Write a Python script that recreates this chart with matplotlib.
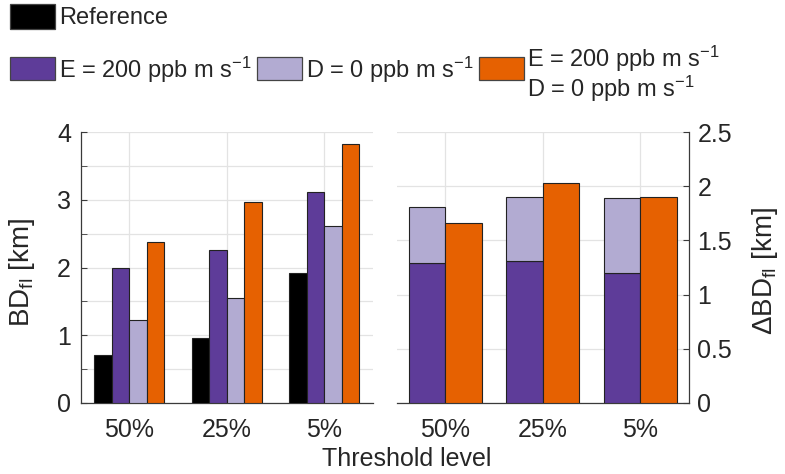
import matplotlib
matplotlib.use("Agg")
import matplotlib.pyplot as plt
from matplotlib.patches import Rectangle
import numpy as np

plt.rcParams['font.family'] = ['Liberation Sans', 'DejaVu Sans']
plt.rcParams['mathtext.fontset'] = 'custom'
plt.rcParams['mathtext.rm'] = 'Liberation Sans'
plt.rcParams['mathtext.it'] = 'Liberation Sans:italic'
plt.rcParams['mathtext.bf'] = 'Liberation Sans:bold'

categories = ['50%', '25%', '5%']
# Left panel: BD_fl [km]
ref_bd = [0.71, 0.955, 1.92]
e200_bd = [2.00, 2.26, 3.11]
d0_bd = [1.23, 1.545, 2.61]
both_bd = [2.37, 2.97, 3.82]
# Right panel: Delta BD_fl [km]
e200_dbd = [1.287, 1.312, 1.195]
d0_dbd = [0.523, 0.588, 0.695]   # stacked on top of e200_dbd
both_dbd = [1.656, 2.03, 1.90]

left_ticks = [0, 1, 2, 3, 4]
right_ticks = [0, 0.5, 1, 1.5, 2, 2.5]
right_ticklabels = ['0', '0.5', '1', '1.5', '2', '2.5']

c_ref = '#000000'
c_e = '#5E3C99'
c_d = '#B2ABD2'
c_both = '#E66101'
edge = '#222222'
axcol = '#262626'
spinecol = '#3a3a3a'
gridcol = '#e3e3e3'

W, H = 785, 474
fig = plt.figure(figsize=(W / 100, H / 100), dpi=100)

axL = fig.add_axes([80.7 / W, 1 - 403 / H, (373 - 80.7) / W, (403 - 132) / H])
axR = fig.add_axes([396.7 / W, 1 - 403 / H, (689 - 396.7) / W, (403 - 132) / H])

x = np.arange(1, len(categories) + 1)
bw = 0.18
offs = [-1.5, -0.5, 0.5, 1.5]
for off, vals, col in zip(offs, [ref_bd, e200_bd, d0_bd, both_bd], [c_ref, c_e, c_d, c_both]):
    axL.bar(x + off * bw, vals, width=bw, color=col, edgecolor=edge, linewidth=0.8, zorder=3)

bw2 = 0.375
axR.bar(x - bw2 / 2, e200_dbd, width=bw2, color=c_e, edgecolor=edge, linewidth=0.8, zorder=3)
axR.bar(x - bw2 / 2, d0_dbd, bottom=e200_dbd, width=bw2, color=c_d, edgecolor=edge, linewidth=0.8, zorder=3)
axR.bar(x + bw2 / 2, both_dbd, width=bw2, color=c_both, edgecolor=edge, linewidth=0.8, zorder=3)

fs = 18
for ax in (axL, axR):
    ax.set_xlim(0.5, 3.5)
    ax.set_xticks(x)
    ax.set_xticklabels(categories, fontsize=fs, color=axcol)
    ax.spines['top'].set_visible(False)
    ax.grid(True, which='both', color=gridcol, linewidth=0.9, zorder=0)
    ax.set_axisbelow(True)
    ax.tick_params(axis='x', direction='in', length=0, pad=11, colors=axcol, labelcolor=axcol)
    ax.tick_params(axis='y', which='both', direction='in', length=4, colors=spinecol,
                   labelsize=fs, labelcolor=axcol)
    for s in ax.spines.values():
        s.set_color(spinecol)
        s.set_linewidth(0.9)

axL.set_ylim(0, 4)
axL.set_yticks(left_ticks)
axL.set_yticks([0.5, 1.5, 2.5, 3.5], minor=True)
axL.spines['right'].set_visible(False)
axL.tick_params(axis='y', pad=7)

axR.set_ylim(0, 2.5)
axR.set_yticks(right_ticks)
axR.set_yticklabels(right_ticklabels)
axR.spines['left'].set_visible(False)
axR.yaxis.tick_right()
axR.tick_params(axis='y', left=False, right=True, pad=6)

fig.text(22 / W, 1 - 272 / H, r'BD$_{\rm fl}$ [km]', fontsize=20, color=axcol,
         rotation=90, ha='center', va='center')
fig.text(765 / W, 1 - 271 / H, r'$\Delta$BD$_{\rm fl}$ [km]', fontsize=20, color=axcol,
         rotation=90, ha='center', va='center')
fig.text(407 / W, 1 - 459 / H, 'Threshold level', fontsize=fs, color=axcol, ha='center', va='center')

# Legend drawn manually
lfs = 17
def patch(x0, y0, x1, y1, col):
    fig.patches.append(Rectangle((x0 / W, 1 - y1 / H), (x1 - x0) / W, (y1 - y0) / H,
                                 transform=fig.transFigure, facecolor=col, edgecolor='#444444',
                                 linewidth=0.9))

patch(10, 4, 55, 29, c_ref)
fig.text(59 / W, 1 - 18 / H, 'Reference', fontsize=lfs, color=axcol, va='center', ha='left')
patch(10, 57, 55, 80, c_e)
fig.text(59 / W, 1 - 70 / H, r'E = 200 ppb m s$^{-1}$', fontsize=lfs, color=axcol, va='center', ha='left')
patch(257, 57, 302, 80, c_d)
fig.text(306 / W, 1 - 70 / H, r'D = 0 ppb m s$^{-1}$', fontsize=lfs, color=axcol, va='center', ha='left')
patch(479, 57, 524, 80, c_both)
fig.text(527 / W, 1 - 59 / H, r'E = 200 ppb m s$^{-1}$', fontsize=lfs, color=axcol, va='center', ha='left')
fig.text(527 / W, 1 - 89 / H, r'D = 0 ppb m s$^{-1}$', fontsize=lfs, color=axcol, va='center', ha='left')

fig.savefig('out.png', dpi=100, facecolor='white')
